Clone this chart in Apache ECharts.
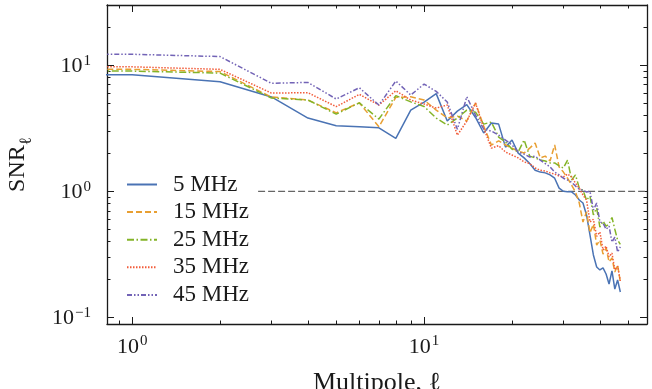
<!DOCTYPE html>
<html>
<head>
<meta charset="utf-8">
<script src="https://cdn.jsdelivr.net/npm/echarts@6.0.0/dist/echarts.min.js"></script>
<style>
  html, body { margin: 0; padding: 0; background: #fff; }
  #chart { width: 652px; height: 389px; }
</style>
</head>
<body>
<div id="chart"></div>
<script>
// multipole values; the first entry sits left of the axis so the curves run flat to the edge
const ells = [0.5, 1, 2, 3, 4, 5, 6, 7, 8, 9, 10, 11, 12, 13, 14, 15, 16, 17, 18, 19, 20,
  21, 22, 23, 24, 25, 26, 27, 28, 29, 30, 31, 32, 33, 34, 35, 36, 37, 38, 39, 40,
  41, 42, 43, 44, 45, 46, 47];

const snr5 = [8.4, 8.4, 7.4, 5.6, 3.81, 3.31, 3.25, 3.19, 2.63, 4.4, 5.1, 5.95, 3.61, 4.32,
  4.87, 3.85, 2.9, 3.48, 3.41, 2.24, 2.55, 2.01, 1.84, 1.66, 1.47, 1.42, 1.4, 1.35, 1.27,
  1.06, 1.0, 0.99, 0.99, 0.935, 0.853, 0.808, 0.649, 0.45, 0.313, 0.251, 0.238, 0.247,
  0.221, 0.184, 0.234, 0.168, 0.198, 0.159];
const snr15 = [9.27, 9.27, 8.9, 5.59, 5.29, 4.19, 5.03, 3.25, 5.56, 5.62, 5.29, 4.4, 3.81,
  3.95, 3.61, 5.01, 3.29, 2.33, 2.51, 2.33, 2.2, 2.08, 2.01, 2.2, 2.41, 1.84, 1.9, 1.74,
  2.33, 1.56, 1.42, 1.27, 1.12, 0.987, 0.808, 0.571, 0.686, 0.468, 0.55, 0.375, 0.411,
  0.318, 0.355, 0.275, 0.296, 0.229, 0.261, 0.191];
const snr25 = [8.98, 8.98, 8.66, 5.49, 5.29, 4.09, 5.03, 3.74, 5.73, 5.12, 4.7, 3.81, 3.35,
  3.81, 4.4, 4.24, 3.41, 3.54, 2.69, 2.46, 2.16, 2.05, 2.55, 1.9, 1.84, 1.77, 1.74, 1.68,
  1.68, 1.59, 1.53, 1.77, 1.23, 1.35, 1.06, 1.02, 0.853, 0.917, 0.649, 0.737, 0.52, 0.58,
  0.53, 0.55, 0.62, 0.5, 0.41, 0.38];
const snr35 = [9.7, 9.7, 9.27, 6.01, 6.05, 4.69, 5.87, 4.83, 6.27, 5.29, 4.92, 4.57, 4.83,
  2.79, 3.6, 5.01, 3.17, 2.2, 2.3, 2.05, 1.94, 1.84, 1.71, 1.66, 1.53, 1.47, 1.45, 1.4,
  1.37, 1.32, 1.3, 1.37, 1.3, 1.16, 1.06, 0.935, 0.853, 0.571, 0.6, 0.44, 0.476, 0.343,
  0.368, 0.302, 0.324, 0.238, 0.255, 0.195];
const snr45 = [12.2, 12.2, 11.7, 7.18, 7.3, 5.39, 6.62, 4.83, 7.48, 5.8, 7.08, 6.2, 5.1,
  3.1, 5.62, 4.02, 3.12, 3.0, 2.79, 2.55, 2.33, 2.05, 1.97, 1.87, 1.9, 1.77, 1.66, 1.56,
  1.42, 1.35, 1.27, 1.23, 1.18, 1.1, 1.04, 1.02, 0.987, 1.0, 0.711, 0.808, 0.571, 0.561,
  0.5, 0.53, 0.396, 0.434, 0.33, 0.362];

const seriesNames = ["5 MHz", "15 MHz", "25 MHz", "35 MHz", "45 MHz"];
const seriesData = [snr5, snr15, snr25, snr35, snr45];
const colors = ["#4a73b4", "#e89f32", "#84b428", "#f25c3a", "#7263b6"];
const dashes = ["solid", [6, 3], [7, 2.5, 1.5, 2.5], [1.5, 1.5], [5, 2, 1.5, 2, 1.5, 2]];

// SNR = 1 threshold line
const thresholdX = [2.7, 58];
const thresholdY = [1, 1];

const xRange = [0.82, 58];
const yRange = [0.0887, 30];
const xMajor = [1, 10];
const xMinor = [0.9, 2, 3, 4, 5, 6, 7, 8, 9, 20, 30, 40, 50];
const yMajor = [0.1, 1, 10];
const yMinor = [0.2, 0.3, 0.4, 0.5, 0.6, 0.7, 0.8, 0.9, 2, 3, 4, 5, 6, 7, 8, 9, 20];

const FONT = "Liberation Serif";
const INK = "#1a1a1a";

const powLabel = (v) => {
  const e = Math.round(Math.log10(v));
  return "{b|10}{s|" + (e < 0 ? "\u2212" + -e : e) + "}";
};
const powRich = {
  b: { fontFamily: FONT, fontSize: 22, color: INK, verticalAlign: "bottom" },
  s: { fontFamily: FONT, fontSize: 15, color: INK, verticalAlign: "bottom", padding: [0, 0, 9, 1] },
};

function makeAxis(kind, position, ticks, len, extra) {
  return Object.assign(
    {
      type: "log",
      position: position,
      min: kind === "x" ? xRange[0] : yRange[0],
      max: kind === "x" ? xRange[1] : yRange[1],
      axisLine: { show: true, lineStyle: { color: INK, width: 1.3 } },
      axisTick: { show: true, inside: true, length: len, customValues: ticks, lineStyle: { color: INK, width: 1 } },
      axisLabel: { show: false },
      splitLine: { show: false },
      minorTick: { show: false },
    },
    extra || {}
  );
}

const chart = echarts.init(document.getElementById("chart"));

const series = seriesNames.map((name, i) => ({
  name: name,
  type: "line",
  data: ells.map((e, j) => [e, seriesData[i][j]]),
  symbol: "none",
  clip: true,
  lineStyle: { color: colors[i], width: 1.5, type: dashes[i] },
  itemStyle: { color: colors[i] },
  z: 3,
}));

series.push({
  name: "threshold",
  type: "line",
  data: thresholdX.map((x, i) => [x, thresholdY[i]]),
  symbol: "none",
  silent: true,
  lineStyle: { color: "#666", width: 1.2, type: [7, 3] },
  z: 2,
});

chart.setOption({
  animation: false,
  backgroundColor: "#fff",
  grid: { left: 107, right: 5, top: 5, bottom: 65, outerBoundsMode: "none" },
  legend: {
    data: seriesNames,
    orient: "vertical",
    left: 121,
    top: 168,
    itemWidth: 30,
    itemHeight: 14,
    itemGap: 4.6,
    itemStyle: { opacity: 0 },
    textStyle: { fontFamily: FONT, fontSize: 23, lineHeight: 20, color: INK, padding: [0, 0, 0, 11] },
  },
  xAxis: [
    makeAxis("x", "bottom", xMajor, 7, {
      name: "Multipole, \u2113",
      nameLocation: "middle",
      nameGap: 46,
      nameTextStyle: { fontFamily: FONT, fontSize: 26, color: INK },
      axisLabel: {
        show: true,
        customValues: xMajor,
        margin: 10,
        formatter: powLabel,
        rich: powRich,
      },
    }),
    makeAxis("x", "bottom", xMinor, 3.5, { axisLine: { show: false } }),
    makeAxis("x", "top", xMajor, 7),
    makeAxis("x", "top", xMinor, 3.5, { axisLine: { show: false } }),
  ],
  yAxis: [
    makeAxis("y", "left", yMajor, 7, {
      name: "{a|SNR}{l|\u2113}",
      nameLocation: "middle",
      nameGap: 72,
      nameTextStyle: {
        rich: {
          a: { fontFamily: FONT, fontSize: 24, color: INK, verticalAlign: "bottom", padding: [0, 0, 5, 0] },
          l: { fontFamily: FONT, fontSize: 17, color: INK, verticalAlign: "bottom" },
        },
      },
      axisLabel: {
        show: true,
        customValues: yMajor,
        margin: 16,
        formatter: powLabel,
        rich: powRich,
      },
    }),
    makeAxis("y", "left", yMinor, 3.5, { axisLine: { show: false } }),
    makeAxis("y", "right", yMajor, 7),
    makeAxis("y", "right", yMinor, 3.5, { axisLine: { show: false } }),
  ],
  series: series,
});
</script>
</body>
</html>
